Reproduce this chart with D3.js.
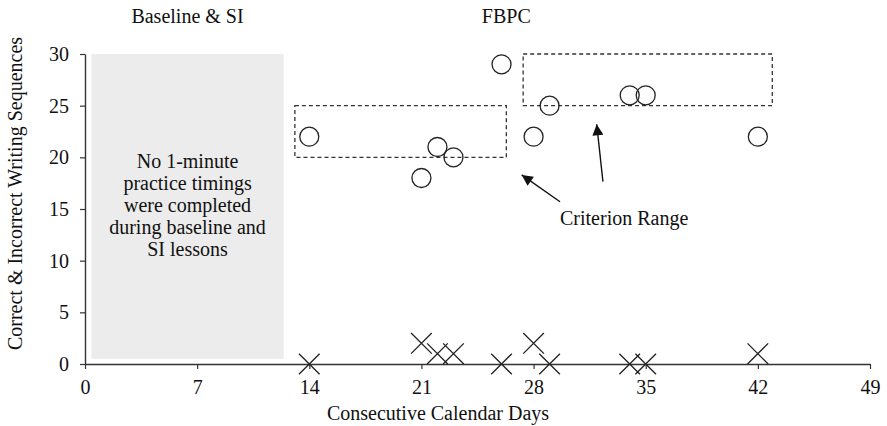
<!DOCTYPE html>
<html>
<head>
<meta charset="utf-8">
<script src="https://cdn.jsdelivr.net/npm/d3@7"></script>
<style>
  body { margin: 0; background: #fff; }
  svg text { font-family: "Liberation Serif", "Times New Roman", serif; fill: #111; }
</style>
</head>
<body>
<div id="chart"></div>
<script>
// data
const days      = [14, 21, 22, 23, 26, 28, 29, 34, 35, 42];
const correct   = [22, 18, 21, 20, 29, 22, 25, 26, 26, 22];
const incorrect = [0, 2, 1, 1, 0, 2, 0, 0, 0, 1];

const xTicks = [0, 7, 14, 21, 28, 35, 42, 49];
const yTicks = [0, 5, 10, 15, 20, 25, 30];

// phase labels (x in days)
const phaseNames = ["Baseline & SI", "FBPC"];
const phaseX     = [6.4, 26.3];

// no-timings shaded area: [x0, x1, y0, y1]
const shade = [0.4, 12.4, 0.5, 30];
const shadeText = ["No 1-minute", "practice timings", "were completed", "during baseline and", "SI lessons"];

// criterion ranges: [x0, x1, y0, y1]
const criterion = [[13.1, 26.3, 20, 25], [27.35, 42.9, 25, 30]];
// arrows: [fromX, fromY, toX, toY]
const arrows = [[29.65, 15.7, 27.26, 18.3], [32.33, 17.65, 31.94, 23.2]];
const criterionLabel = "Criterion Range";

const width = 887, height = 426;
const margin = {top: 54, right: 17, bottom: 62, left: 85};

const svg = d3.select("#chart").append("svg")
    .attr("width", width)
    .attr("height", height);

const x = d3.scaleLinear().domain([0, 49]).range([margin.left, width - margin.right]);
const y = d3.scaleLinear().domain([0, 30]).range([height - margin.bottom, margin.top]);

// grey box
svg.append("rect")
    .attr("x", x(shade[0]))
    .attr("y", y(shade[3]))
    .attr("width", x(shade[1]) - x(shade[0]))
    .attr("height", y(shade[2]) - y(shade[3]))
    .attr("fill", "#ececec");

svg.append("text")
    .attr("text-anchor", "middle")
    .attr("font-size", 20)
  .selectAll("tspan")
  .data(shadeText)
  .join("tspan")
    .attr("x", x((shade[0] + shade[1]) / 2))
    .attr("y", (d, i) => 168 + i * 22)
    .text(d => d);

// axes
const xAxis = svg.append("g")
    .attr("transform", `translate(0,${y(0)})`)
    .call(d3.axisBottom(x).tickValues(xTicks).tickSize(5).tickPadding(11).tickSizeOuter(0));

const yAxis = svg.append("g")
    .attr("transform", `translate(${x(0)},0)`)
    .call(d3.axisLeft(y).tickValues(yTicks).tickSize(5).tickPadding(11).tickSizeOuter(0));

[xAxis, yAxis].forEach(a => {
  a.select(".domain").attr("stroke", "#333").attr("stroke-width", 1.4);
  a.selectAll(".tick line").attr("stroke", "#333").attr("stroke-width", 1.2);
  a.selectAll(".tick text").attr("font-size", 20).attr("font-family", "Liberation Serif").attr("fill", "#111");
});

// axis titles
svg.append("text")
    .attr("x", 438)
    .attr("y", 420)
    .attr("text-anchor", "middle")
    .attr("font-size", 20)
    .text("Consecutive Calendar Days");

svg.append("text")
    .attr("transform", `translate(22,${(32 + 355) / 2}) rotate(-90)`)
    .attr("text-anchor", "middle")
    .attr("font-size", 20)
    .text("Correct & Incorrect Writing Sequences");

// phase labels
svg.selectAll(".phase")
  .data(phaseNames)
  .join("text")
    .attr("class", "phase")
    .attr("x", (d, i) => x(phaseX[i]))
    .attr("y", 23)
    .attr("text-anchor", "middle")
    .attr("font-size", 20)
    .text(d => d);

// criterion boxes
svg.selectAll(".crit")
  .data(criterion)
  .join("rect")
    .attr("class", "crit")
    .attr("x", d => x(d[0]))
    .attr("y", d => y(d[3]))
    .attr("width", d => x(d[1]) - x(d[0]))
    .attr("height", d => y(d[2]) - y(d[3]))
    .attr("fill", "none")
    .attr("stroke", "#333")
    .attr("stroke-width", 1.3)
    .attr("stroke-dasharray", "4,3");

// arrows
svg.append("defs").append("marker")
    .attr("id", "head")
    .attr("viewBox", "0 0 10 10")
    .attr("refX", 10)
    .attr("refY", 5)
    .attr("markerWidth", 13)
    .attr("markerHeight", 11)
    .attr("markerUnits", "userSpaceOnUse")
    .attr("orient", "auto")
  .append("path")
    .attr("d", "M0,0L10,5L0,10z")
    .attr("fill", "#111");

svg.selectAll(".arrow")
  .data(arrows)
  .join("line")
    .attr("class", "arrow")
    .attr("x1", d => x(d[0]))
    .attr("y1", d => y(d[1]))
    .attr("x2", d => x(d[2]))
    .attr("y2", d => y(d[3]))
    .attr("stroke", "#111")
    .attr("stroke-width", 1.4)
    .attr("marker-end", "url(#head)");

svg.append("text")
    .attr("x", x(29.65))
    .attr("y", 225)
    .attr("font-size", 20)
    .text(criterionLabel);

// correct: open circles
svg.append("g")
  .selectAll("circle")
  .data(days)
  .join("circle")
    .attr("cx", d => x(d))
    .attr("cy", (d, i) => y(correct[i]))
    .attr("r", 9.5)
    .attr("fill", "none")
    .attr("stroke", "#222")
    .attr("stroke-width", 1.3);

// incorrect: crosses
const cross = d3.symbol().type(d3.symbolX).size(280);
svg.append("g")
  .selectAll("path")
  .data(days)
  .join("path")
    .attr("transform", (d, i) => `translate(${x(d)},${y(incorrect[i])})`)
    .attr("d", cross)
    .attr("fill", "none")
    .attr("stroke", "#222")
    .attr("stroke-width", 1.3);
</script>
</body>
</html>
